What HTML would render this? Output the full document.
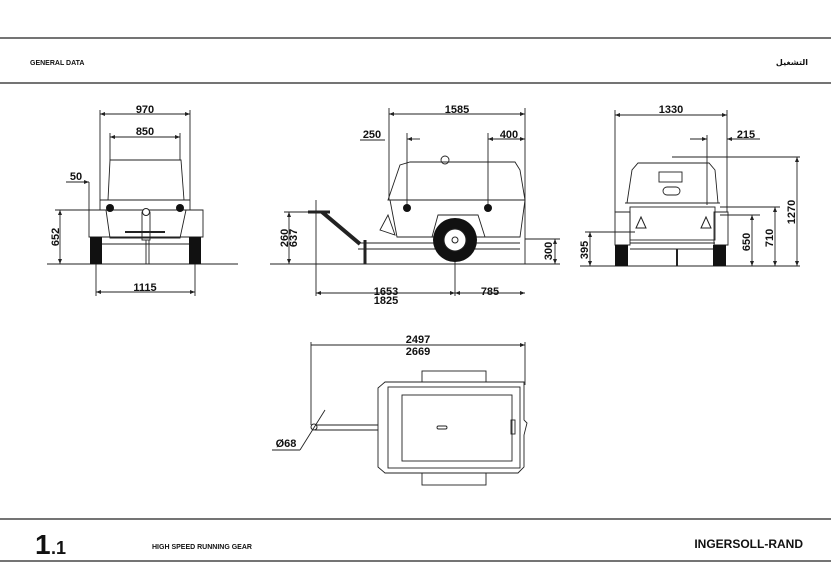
<!DOCTYPE html>
<html><head><meta charset="utf-8"><style>
html,body{margin:0;padding:0;background:#fff}
svg{display:block}
text{font-family:"Liberation Sans",Arial,sans-serif;font-weight:bold;fill:#111}
</style></head><body>
<svg width="831" height="582" viewBox="0 0 831 582" xmlns="http://www.w3.org/2000/svg">
<defs>
<marker id="a" viewBox="0 0 10 10" refX="10" refY="5" markerWidth="7" markerHeight="5" orient="auto-start-reverse" markerUnits="userSpaceOnUse"><path d="M0,1 L10,5 L0,9 Z" fill="#222"/></marker>
</defs>
<g stroke="#222" fill="none">
<line x1="0" y1="38" x2="831" y2="38" stroke-width="1.2"/>
<line x1="0" y1="83" x2="831" y2="83" stroke-width="1.2"/>
<line x1="0" y1="519" x2="831" y2="519" stroke-width="1.2"/>
<line x1="0" y1="561" x2="831" y2="561" stroke-width="1.2"/>
</g>
<text x="30" y="65" font-size="7">GENERAL DATA</text>
<text x="808" y="65" font-size="8" text-anchor="end" style="font-family:'DejaVu Sans',sans-serif">التشغيل</text>
<text x="35" y="554" font-size="28">1</text><text x="51" y="554" font-size="18">.1</text>
<text x="152" y="549" font-size="7">HIGH SPEED RUNNING GEAR</text>
<text x="803" y="548" font-size="12" text-anchor="end">INGERSOLL-RAND</text>

<!-- FRONT VIEW -->
<g stroke="#222" stroke-width="0.9" fill="none">
<line x1="47" y1="264" x2="238" y2="264" stroke-width="1.1"/>
<line x1="100" y1="110" x2="100" y2="200"/><line x1="190" y1="110" x2="190" y2="200"/>
<line x1="100" y1="114" x2="190" y2="114" marker-start="url(#a)" marker-end="url(#a)"/>
<line x1="110" y1="133" x2="110" y2="160"/><line x1="180" y1="133" x2="180" y2="160"/>
<line x1="110" y1="137" x2="180" y2="137" marker-start="url(#a)" marker-end="url(#a)"/>
<path d="M108,200 L110,160 L181,160 L184,200 Z"/>
<line x1="100" y1="200" x2="190" y2="200"/><line x1="100" y1="200" x2="100" y2="210"/><line x1="190" y1="200" x2="190" y2="210"/>
<path d="M89,210 L203,210 L203,237 L89,237 Z"/>
<path d="M106,210 L110,238 L180,238 L186,210"/>
<line x1="102" y1="244" x2="190" y2="244"/>
<rect x="142" y="212" width="8" height="28"/>
<line x1="146" y1="240" x2="146" y2="264"/><line x1="149" y1="240" x2="149" y2="264"/>
<line x1="125" y1="232" x2="165" y2="232" stroke-width="2"/>
<line x1="60" y1="210" x2="60" y2="264" marker-start="url(#a)" marker-end="url(#a)"/><line x1="55" y1="210" x2="90" y2="210"/>
<line x1="96" y1="264" x2="96" y2="296"/><line x1="195" y1="264" x2="195" y2="296"/>
<line x1="96" y1="292" x2="195" y2="292" marker-start="url(#a)" marker-end="url(#a)"/>
<line x1="66" y1="182" x2="89" y2="182" marker-end="url(#a)"/><line x1="89" y1="182" x2="89" y2="210"/>
</g>
<rect x="90" y="237" width="12" height="27" fill="#111"/><rect x="189" y="237" width="12" height="27" fill="#111"/>
<circle cx="110" cy="208" r="4" fill="#111"/><circle cx="180" cy="208" r="4" fill="#111"/>
<circle cx="146" cy="212" r="3.5" fill="#fff" stroke="#222"/>
<text x="145" y="113" font-size="11" text-anchor="middle">970</text>
<text x="145" y="135" font-size="11" text-anchor="middle">850</text>
<text x="76" y="180" font-size="11" text-anchor="middle">50</text>
<text x="145" y="291" font-size="11" text-anchor="middle">1115</text>
<text transform="translate(59,237) rotate(-90)" font-size="11" text-anchor="middle">652</text>

<!-- SIDE VIEW -->
<g stroke="#222" stroke-width="0.9" fill="none">
<line x1="270" y1="264" x2="560" y2="264" stroke-width="1.1"/>
<line x1="389" y1="108" x2="389" y2="200"/><line x1="525" y1="108" x2="525" y2="264"/>
<line x1="389" y1="114" x2="525" y2="114" marker-start="url(#a)" marker-end="url(#a)"/>
<line x1="407" y1="133" x2="407" y2="208"/><line x1="488" y1="133" x2="488" y2="208"/>
<line x1="420" y1="139" x2="407" y2="139" marker-end="url(#a)"/><line x1="488" y1="139" x2="525" y2="139" marker-start="url(#a)" marker-end="url(#a)"/>
<line x1="360" y1="140" x2="385" y2="140"/>
<path d="M388,200 L400,165 L410,162 L515,162 L520,170 L525,200 Z"/>
<path d="M390,200 L397,237 L520,237 L525,200"/>
<path d="M380,230 L388,215 L395,235 Z"/>
<path d="M432,237 L438,215 L478,215 L485,237"/>
<line x1="358" y1="243" x2="520" y2="243"/><line x1="358" y1="249" x2="520" y2="249"/>
<line x1="322" y1="212" x2="360" y2="244" stroke-width="4"/>
<line x1="308" y1="212" x2="330" y2="212" stroke-width="3"/>
<line x1="365" y1="240" x2="365" y2="264" stroke-width="3"/>
<line x1="316" y1="200" x2="316" y2="296"/><line x1="455" y1="240" x2="455" y2="296"/>
<line x1="316" y1="293" x2="455" y2="293" marker-start="url(#a)" marker-end="url(#a)"/>
<line x1="455" y1="293" x2="525" y2="293" marker-start="url(#a)" marker-end="url(#a)"/>
<line x1="289" y1="212" x2="289" y2="264" marker-start="url(#a)" marker-end="url(#a)"/><line x1="284" y1="212" x2="312" y2="212"/>
<line x1="555" y1="239" x2="555" y2="264" marker-start="url(#a)" marker-end="url(#a)"/><line x1="525" y1="239" x2="560" y2="239"/>
<circle cx="445" cy="160" r="4"/>
</g>
<circle cx="455" cy="240" r="22" fill="#111"/><circle cx="455" cy="240" r="11" fill="#fff" stroke="#222"/><circle cx="455" cy="240" r="3" fill="none" stroke="#222"/>
<circle cx="407" cy="208" r="4" fill="#111"/><circle cx="488" cy="208" r="4" fill="#111"/>
<text x="457" y="113" font-size="11" text-anchor="middle">1585</text>
<text x="372" y="138" font-size="11" text-anchor="middle">250</text>
<text x="509" y="138" font-size="11" text-anchor="middle">400</text>
<text x="386" y="295" font-size="11" text-anchor="middle">1653</text>
<text x="386" y="304" font-size="11" text-anchor="middle">1825</text>
<text x="490" y="295" font-size="11" text-anchor="middle">785</text>
<text transform="translate(288,238) rotate(-90)" font-size="11" text-anchor="middle">260</text>
<text transform="translate(297,238) rotate(-90)" font-size="11" text-anchor="middle">637</text>
<text transform="translate(552,251) rotate(-90)" font-size="11" text-anchor="middle">300</text>

<!-- REAR VIEW -->
<g stroke="#222" stroke-width="0.9" fill="none">
<line x1="580" y1="266" x2="800" y2="266" stroke-width="1.1"/>
<line x1="615" y1="110" x2="615" y2="212"/><line x1="727" y1="110" x2="727" y2="212"/>
<line x1="615" y1="115" x2="727" y2="115" marker-start="url(#a)" marker-end="url(#a)"/>
<line x1="707" y1="135" x2="707" y2="205"/>
<line x1="690" y1="139" x2="707" y2="139" marker-end="url(#a)"/><line x1="760" y1="139" x2="727" y2="139" marker-end="url(#a)"/>
<path d="M627,203 L632,170 L638,163 L709,163 L715,170 L718,203 Z"/>
<line x1="625" y1="203" x2="720" y2="203"/>
<rect x="659" y="172" width="23" height="10"/><rect x="663" y="187" width="17" height="8" rx="4"/>
<path d="M615,212 L630,212 L630,245 L615,245 Z"/><path d="M714,212 L728,212 L728,245 L714,245 Z"/>
<rect x="630" y="207" width="85" height="33"/>
<line x1="630" y1="243" x2="715" y2="243"/><line x1="630" y1="249" x2="715" y2="249"/>
<line x1="677" y1="249" x2="677" y2="266" stroke-width="2"/>
<line x1="672" y1="157" x2="800" y2="157"/><line x1="797" y1="157" x2="797" y2="266" marker-start="url(#a)" marker-end="url(#a)"/>
<line x1="720" y1="207" x2="780" y2="207"/><line x1="775" y1="207" x2="775" y2="266" marker-start="url(#a)" marker-end="url(#a)"/>
<line x1="720" y1="215" x2="760" y2="215"/><line x1="752" y1="215" x2="752" y2="266" marker-start="url(#a)" marker-end="url(#a)"/>
<line x1="585" y1="232" x2="635" y2="232"/><line x1="590" y1="232" x2="590" y2="266" marker-start="url(#a)" marker-end="url(#a)"/>
</g>
<path d="M636,228 L641,217 L646,228 Z M701,228 L706,217 L711,228 Z" fill="#fff" stroke="#222"/>
<rect x="615" y="245" width="13" height="21" fill="#111"/><rect x="713" y="245" width="13" height="21" fill="#111"/>
<text x="671" y="113" font-size="11" text-anchor="middle">1330</text>
<text x="746" y="138" font-size="11" text-anchor="middle">215</text>
<text transform="translate(795,212) rotate(-90)" font-size="11" text-anchor="middle">1270</text>
<text transform="translate(773,238) rotate(-90)" font-size="11" text-anchor="middle">710</text>
<text transform="translate(750,242) rotate(-90)" font-size="11" text-anchor="middle">650</text>
<text transform="translate(588,250) rotate(-90)" font-size="11" text-anchor="middle">395</text>

<!-- TOP VIEW -->
<g stroke="#222" stroke-width="0.9" fill="none">
<line x1="311" y1="342" x2="311" y2="425"/><line x1="525" y1="342" x2="525" y2="385"/>
<line x1="311" y1="345" x2="525" y2="345" marker-end="url(#a)"/>
<rect x="422" y="371" width="64" height="11"/><rect x="422" y="473" width="64" height="12"/>
<path d="M378,388 L385,382 L524,382 L524,420 L527,423 L524,435 L524,467 L518,473 L385,473 L378,467 Z"/>
<rect x="388" y="387" width="132" height="81"/>
<rect x="402" y="395" width="110" height="66"/>
<line x1="315" y1="425" x2="378" y2="425"/><line x1="315" y1="430" x2="378" y2="430"/>
<line x1="272" y1="450" x2="300" y2="450"/><line x1="300" y1="450" x2="325" y2="410"/>
<rect x="437" y="426" width="10" height="3" rx="1.5"/>
<rect x="511" y="420" width="4" height="14"/>
</g>
<circle cx="314" cy="427" r="3" fill="none" stroke="#222"/>
<text x="418" y="343" font-size="11" text-anchor="middle">2497</text>
<text x="418" y="355" font-size="11" text-anchor="middle">2669</text>
<text x="286" y="447" font-size="11" text-anchor="middle">Ø68</text>
</svg>
</body></html>
